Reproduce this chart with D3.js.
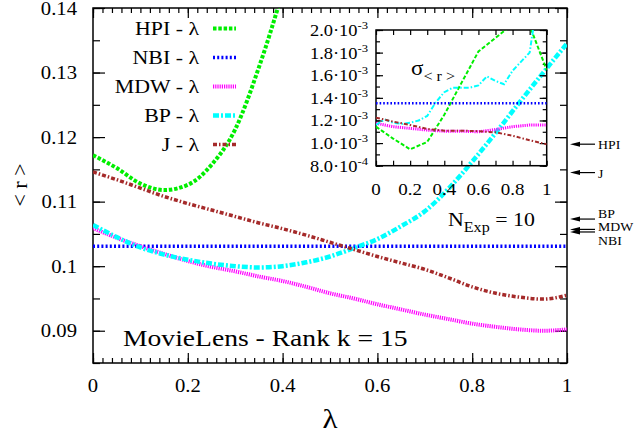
<!DOCTYPE html>
<html><head><meta charset="utf-8">
<style>
body { margin: 0; background: #fff; }
svg { display: block; }
text { font-family: "Liberation Serif", "Times New Roman", Times, serif; }
</style>
</head>
<body>
<svg width="637" height="435"></svg>
<script src="https://cdnjs.cloudflare.com/ajax/libs/d3/7.8.5/d3.min.js"></script>
<script>

// main plot: <r> vs lambda
var lam = [0, 0.05, 0.1, 0.15, 0.2, 0.25, 0.3, 0.35, 0.4, 0.45, 0.5,
           0.55, 0.6, 0.65, 0.7, 0.75, 0.8, 0.85, 0.9, 0.95, 1];
var hpiLam = [0, 0.05, 0.1, 0.15, 0.2, 0.25, 0.3, 0.35, 0.4, 0.45];
var hpi = [0.1172, 0.1152, 0.1128, 0.1118, 0.1126, 0.1157, 0.1212, 0.1308, 0.1425, 0.1560];
var nbi = [0.1031, 0.1031, 0.1031, 0.1031, 0.1031, 0.1031, 0.1031, 0.1031, 0.1031, 0.1031, 0.1031,
           0.1031, 0.1031, 0.1031, 0.1031, 0.1031, 0.1031, 0.1031, 0.1031, 0.1031, 0.1031];
var mdw = [0.1059, 0.1044, 0.1031, 0.1019, 0.1008, 0.0999, 0.0992, 0.0984, 0.0977, 0.0968, 0.0958,
           0.0950, 0.0941, 0.0933, 0.0925, 0.0918, 0.0911, 0.0906, 0.0902, 0.0900, 0.0902];
var bp  = [0.1064, 0.1045, 0.1029, 0.1018, 0.1010, 0.1004, 0.1000, 0.0998, 0.1000, 0.1006, 0.1015,
           0.1028, 0.1042, 0.1062, 0.1085, 0.1120, 0.1162, 0.1207, 0.1254, 0.1300, 0.1345];
var jac = [0.1146, 0.1134, 0.1121, 0.1108, 0.1097, 0.1087, 0.1077, 0.1067, 0.1058, 0.1048, 0.1037,
           0.1026, 0.1015, 0.1005, 0.0995, 0.0982, 0.0968, 0.0958, 0.0952, 0.0949, 0.0955];

// inset: sigma_<r> (units of 10^-3)
var sLam10 = [0, 0.1, 0.2, 0.3, 0.4, 0.5, 0.6, 0.7, 0.8, 0.9, 1];
var sHpi = [1.145, 1.04, 0.945, 1.01, 1.25, 1.53, 1.81, 1.93, 2.05, 2.04, 1.646];
var sNbi = [1.352, 1.352, 1.352, 1.352, 1.352, 1.352, 1.352, 1.352, 1.352, 1.352, 1.352];
var sMdw = [1.175, 1.145, 1.13, 1.115, 1.105, 1.105, 1.10, 1.12, 1.145, 1.16, 1.16];
var sBp  = [1.16, 1.21, 1.18, 1.17, 1.18, 1.20, 1.24, 1.36, 1.45, 1.49, 1.49,
            1.49, 1.51, 1.59, 1.55, 1.52, 1.64, 1.72, 1.80, 2.30, 2.50];
var sJac = [1.225, 1.19, 1.16, 1.125, 1.11, 1.11, 1.105, 1.095, 1.065, 1.025, 0.99];

// arrows on the right axis
var arrowNames = ["HPI", "J", "BP", "MDW", "NBI"];
var arrowVals = [0.1189, 0.1145, 0.1073, 0.1057, 0.1053];

// ticks
var xTicks = [0, 0.2, 0.4, 0.6, 0.8, 1];
var xTickLabels = ["0", "0.2", "0.4", "0.6", "0.8", "1"];
var yTicks = [0.09, 0.1, 0.11, 0.12, 0.13, 0.14];
var yTickLabels = ["0.09", "0.1", "0.11", "0.12", "0.13", "0.14"];
var sYTicks = [0.8, 1.0, 1.2, 1.4, 1.6, 1.8, 2.0];
var sYMant = ["8.0", "1.0", "1.2", "1.4", "1.6", "1.8", "2.0"];
var sYExp = ["-4", "-3", "-3", "-3", "-3", "-3", "-3"];

var SX = 1.15;  // glyphs in the picture are a bit wide

var svg = d3.select("svg");
var x = d3.scaleLinear().domain([0, 1]).range([93, 567]);
var y = d3.scaleLinear().domain([0.085, 0.14]).range([363, 8]);
var ix = d3.scaleLinear().domain([0, 1]).range([376, 546.7]);
var iy = d3.scaleLinear().domain([0.8, 2.0]).range([165.7, 30]);

var defs = svg.append("defs");
defs.append("clipPath").attr("id", "cmain").append("rect")
    .attr("x", 93).attr("y", 8).attr("width", 474).attr("height", 355);
defs.append("clipPath").attr("id", "cinset").append("rect")
    .attr("x", 376).attr("y", 30).attr("width", 170.7).attr("height", 135.7);

function txt(parent, px, py, s, size, anchor) {
  return parent.append("text")
      .attr("transform", "translate(" + px + "," + py + ") scale(" + SX + ",1)")
      .attr("font-size", size)
      .attr("text-anchor", anchor || "start")
      .attr("fill", "#000")
      .text(s);
}

function ticks(parent, axisFn, scale, values, size, tr) {
  var a = parent.append("g").attr("transform", tr)
      .call(axisFn(scale).tickValues(values).tickSize(size).tickFormat(""));
  a.select(".domain").remove();
  a.selectAll("text").remove();
  a.selectAll("line").attr("stroke", "#000").attr("stroke-width", 1.2);
}

// ---- main frame
var yMinor = [], xMinor = [], i;
for (i = 0; i <= 11; i++) yMinor.push(0.085 + i * 0.005);
for (i = 0; i <= 50; i++) xMinor.push(i * 0.02);
var fr = svg.append("g");
ticks(fr, d3.axisLeft, y, yMinor, -7, "translate(93,0)");
ticks(fr, d3.axisLeft, y, yTicks, -12, "translate(93,0)");
ticks(fr, d3.axisRight, y, yMinor, -7, "translate(567,0)");
ticks(fr, d3.axisRight, y, yTicks, -12, "translate(567,0)");
ticks(fr, d3.axisBottom, x, xMinor, -5, "translate(0,363)");
ticks(fr, d3.axisBottom, x, xTicks, -10, "translate(0,363)");
ticks(fr, d3.axisTop, x, xMinor, -5, "translate(0,8)");
ticks(fr, d3.axisTop, x, xTicks, -10, "translate(0,8)");
fr.append("rect").attr("x", 93).attr("y", 8).attr("width", 474).attr("height", 355)
    .attr("fill", "none").attr("stroke", "#000").attr("stroke-width", 1.5);

yTicks.forEach(function(v, k) { txt(fr, 77, y(v) + 6.5, yTickLabels[k], 18, "end"); });
xTicks.forEach(function(v, k) { txt(fr, x(v), 392, xTickLabels[k], 18, "middle"); });

svg.append("text").attr("transform", "translate(19,185) rotate(-90)")
    .attr("text-anchor", "middle").attr("dy", "0.35em").attr("font-size", 22)
    .text("< r >");
txt(svg, 330, 428, "λ", 27, "middle");

// ---- series styles
var series = [
  { name: "HPI", lam: hpiLam, v: hpi, s: sHpi, sl: sLam10, color: "#00ee00", w: 4, dash: "3.5,1.8", iw: 2, idash: "4,2" },
  { name: "NBI", lam: lam, v: nbi, s: sNbi, sl: sLam10, color: "#0000ff", w: 3.5, dash: "2,2.2", iw: 2.5, idash: "1.6,2" },
  { name: "MDW", lam: lam, v: mdw, s: sMdw, sl: sLam10, color: "#ff00ff", w: 4, dash: "1.2,1", iw: 3, idash: "1.2,1" },
  { name: "BP", lam: lam, v: bp, s: sBp, sl: lam, color: "#00ffff", w: 4.5, dash: "6,2,2,2", iw: 2, idash: "5,2,1.5,2" },
  { name: "J", lam: lam, v: jac, s: sJac, sl: sLam10, color: "#a52a2a", w: 3.5, dash: "4,2,1.5,2", iw: 2, idash: "4,2,1.5,2" }
];

var mainLine = d3.line().curve(d3.curveMonotoneX)
    .x(function(d) { return x(d[0]); }).y(function(d) { return y(d[1]); });
var insetLine = d3.line()
    .x(function(d) { return ix(d[0]); }).y(function(d) { return iy(d[1]); });

var gm = svg.append("g").attr("clip-path", "url(#cmain)");
series.forEach(function(s) {
  gm.append("path")
      .datum(d3.zip(s.lam, s.v))
      .attr("d", mainLine)
      .attr("fill", "none")
      .attr("stroke", s.color)
      .attr("stroke-width", s.w)
      .attr("stroke-dasharray", s.dash);
});

// ---- legend
var leg = svg.append("g");
series.forEach(function(s, k) {
  var ly = 28.5 + k * 29;
  leg.append("line").attr("x1", 213).attr("x2", 236).attr("y1", ly).attr("y2", ly)
      .attr("stroke", s.color).attr("stroke-width", s.w).attr("stroke-dasharray", s.dash);
  txt(leg, 199, ly + 6.5, s.name + " - λ", 19, "end");
});

// ---- inset
var ins = svg.append("g");
var sYMinor = [], sXMinor = [];
for (i = 0; i <= 12; i++) sYMinor.push(0.8 + i * 0.1);
for (i = 0; i <= 10; i++) sXMinor.push(i * 0.1);
ticks(ins, d3.axisLeft, iy, sYMinor, -4, "translate(376,0)");
ticks(ins, d3.axisLeft, iy, sYTicks, -7, "translate(376,0)");
ticks(ins, d3.axisRight, iy, sYMinor, -4, "translate(546.7,0)");
ticks(ins, d3.axisRight, iy, sYTicks, -7, "translate(546.7,0)");
ticks(ins, d3.axisBottom, ix, sXMinor, -5, "translate(0,165.7)");
ticks(ins, d3.axisTop, ix, sXMinor, -5, "translate(0,30)");
ins.append("rect").attr("x", 376).attr("y", 30).attr("width", 170.7).attr("height", 135.7)
    .attr("fill", "none").attr("stroke", "#000").attr("stroke-width", 1.5);

sYTicks.forEach(function(v, k) {
  var t = txt(ins, 368, iy(v) + 6, "", 16, "end");
  t.append("tspan").text(sYMant[k] + "·10");
  t.append("tspan").attr("dy", -7).attr("font-size", 11).text(sYExp[k]);
});
xTicks.forEach(function(v, k) { txt(ins, ix(v), 195, xTickLabels[k], 16.5, "middle"); });

var gi = svg.append("g").attr("clip-path", "url(#cinset)");
series.forEach(function(s) {
  gi.append("path")
      .datum(d3.zip(s.sl, s.s))
      .attr("d", insetLine)
      .attr("fill", "none")
      .attr("stroke", s.color)
      .attr("stroke-width", s.iw)
      .attr("stroke-dasharray", s.idash);
});

var sig = txt(svg, 411, 75, "", 20, "start");
sig.append("tspan").text("σ");
sig.append("tspan").attr("dy", 6).attr("font-size", 14).text("< r >");

// ---- annotations
txt(svg, 123, 346, "MovieLens - Rank k = 15", 24, "start");
var ne = txt(svg, 448, 226, "", 19, "start");
ne.append("tspan").text("N");
ne.append("tspan").attr("dy", 6).attr("font-size", 14).text("Exp");
ne.append("tspan").attr("dy", -6).text(" = 10");

// arrows pointing at the right axis
var labelDy = [5, 5, -1, 2, 13];
var arr = svg.append("g");
arrowNames.forEach(function(n, k) {
  var ay = y(arrowVals[k]);
  arr.append("line").attr("x1", 576).attr("x2", 595).attr("y1", ay).attr("y2", ay)
      .attr("stroke", "#000").attr("stroke-width", 1.2);
  arr.append("path").attr("d", "M570," + ay + "L580," + (ay - 2.5) + "L580," + (ay + 2.5) + "Z")
      .attr("fill", "#000");
  txt(arr, 598, ay + labelDy[k], n, 12, "start");
});

</script>
</body></html>
